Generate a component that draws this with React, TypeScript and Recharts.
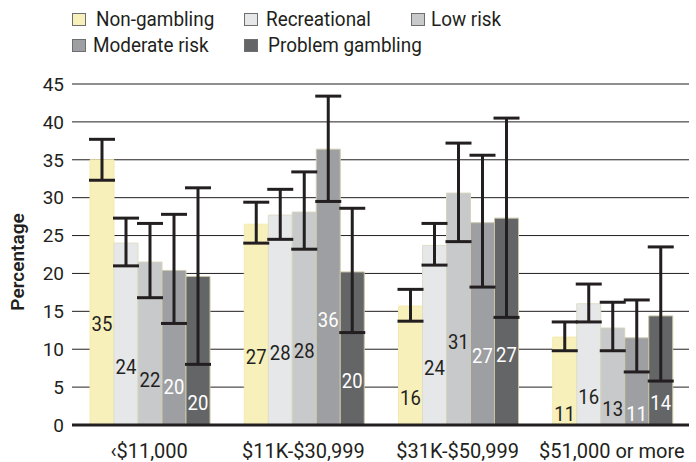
import React from 'react';
import { BarChart, Bar, XAxis, YAxis, CartesianGrid, ErrorBar, LabelList, Legend } from 'recharts';

const categories = ['‹$11,000', '$11K-$30,999', '$31K-$50,999', '$51,000 or more'];
const seriesNames = ['Non-gambling', 'Recreational', 'Low risk', 'Moderate risk', 'Problem gambling'];

const nonGambling = [35.0, 26.5, 15.7, 11.6];
const nonGamblingLow = [32.3, 24.0, 13.7, 9.8];
const nonGamblingHigh = [37.7, 29.4, 17.9, 13.6];
const nonGamblingLabels = ['35', '27', '16', '11'];
const nonGamblingLabelAt = [13.3, 9.0, 3.5, 1.45];

const recreational = [24.0, 27.7, 23.7, 16.0];
const recreationalLow = [21.0, 24.5, 21.1, 13.6];
const recreationalHigh = [27.3, 31.1, 26.6, 18.6];
const recreationalLabels = ['24', '28', '24', '16'];
const recreationalLabelAt = [7.7, 9.5, 7.5, 3.7];

const lowRisk = [21.5, 28.1, 30.6, 12.8];
const lowRiskLow = [16.8, 23.2, 24.2, 9.8];
const lowRiskHigh = [26.6, 33.4, 37.2, 16.2];
const lowRiskLabels = ['22', '28', '31', '13'];
const lowRiskLabelAt = [5.9, 9.8, 11.0, 2.1];

const moderateRisk = [20.4, 36.4, 26.7, 11.5];
const moderateRiskLow = [13.4, 29.5, 18.2, 7.0];
const moderateRiskHigh = [27.8, 43.4, 35.6, 16.5];
const moderateRiskLabels = ['20', '36', '27', '11'];
const moderateRiskLabelAt = [5.0, 13.9, 9.1, 1.4];

const problemGambling = [19.6, 20.2, 27.3, 14.4];
const problemGamblingLow = [8.0, 12.2, 14.2, 5.8];
const problemGamblingHigh = [31.3, 28.6, 40.5, 23.5];
const problemGamblingLabels = ['20', '20', '27', '14'];
const problemGamblingLabelAt = [2.9, 5.8, 9.2, 2.9];

const yTicks = [0, 5, 10, 15, 20, 25, 30, 35, 40, 45];

const values = [nonGambling, recreational, lowRisk, moderateRisk, problemGambling];
const lows = [nonGamblingLow, recreationalLow, lowRiskLow, moderateRiskLow, problemGamblingLow];
const highs = [nonGamblingHigh, recreationalHigh, lowRiskHigh, moderateRiskHigh, problemGamblingHigh];
const labelTexts = [nonGamblingLabels, recreationalLabels, lowRiskLabels, moderateRiskLabels, problemGamblingLabels];
const labelAts = [nonGamblingLabelAt, recreationalLabelAt, lowRiskLabelAt, moderateRiskLabelAt, problemGamblingLabelAt];

const fills = ['#f8f0bb', '#e6e7e8', '#c8c9cb', '#9e9fa2', '#646567'];
const strokes = ['#f3eab0', '#ddddc8', '#d6d4bc', '#cfcbb0', '#c9c4a4'];
const labelColors = ['#231f20', '#231f20', '#231f20', '#ffffff', '#ffffff'];
const ink = '#231f20';
const FONT = 'Roboto, sans-serif';

const rows = categories.map((c, i) => {
  const r: any = { cat: c };
  values.forEach((s, k) => {
    r['s' + k] = s[i];
    r['e' + k] = [s[i] - lows[k][i], highs[k][i] - s[i]];
  });
  return r;
});

const makeLabel = (k: number) => (props: any) => {
  const { x, y, width, height, index } = props;
  const v = values[k][index];
  const at = labelAts[k][index];
  const cx = Number(x) + Number(width) / 2;
  const cy = Number(y) + Number(height) - (Number(height) * at) / v;
  return (
    <text
      x={0}
      y={0}
      transform={`translate(${cx} ${cy}) scale(0.88 1)`}
      textAnchor="middle"
      dominantBaseline="central"
      fill={labelColors[k]}
      fontSize={21}
      fontFamily={FONT}
    >
      {labelTexts[k][index]}
    </text>
  );
};

const legendPos = [
  { left: 72, top: 13, text: 96 },
  { left: 244, top: 13, text: 266 },
  { left: 411, top: 13, text: 431 },
  { left: 72, top: 39, text: 93 },
  { left: 244, top: 39, text: 268 },
];

const LegendContent = () => (
  <div style={{ position: 'relative', width: 696, height: 60, fontFamily: FONT }}>
    {seriesNames.map((n, k) => (
      <React.Fragment key={n}>
        <div
          style={{
            position: 'absolute',
            left: legendPos[k].left,
            top: legendPos[k].top,
            width: 14,
            height: 13,
            boxSizing: 'border-box',
            background: fills[k],
            border: '1px solid #6d6e70',
          }}
        />
        <span
          style={{
            position: 'absolute',
            left: legendPos[k].text,
            top: legendPos[k].top - 4.5,
            fontSize: 21,
            lineHeight: '21px',
            color: ink,
            whiteSpace: 'nowrap',
            transform: 'scaleX(0.9)',
            transformOrigin: '0 0',
          }}
        >
          {n}
        </span>
      </React.Fragment>
    ))}
  </div>
);

export default function App() {
  return (
    <div style={{ position: 'absolute', left: 0, top: 0, width: 696, height: 462, background: '#fff' }}>
      <BarChart
        width={696}
        height={462}
        data={rows}
        margin={{ top: 24, right: 7, bottom: 0, left: 0 }}
        barCategoryGap={18}
        barGap={0}
      >
        <CartesianGrid vertical={false} stroke={ink} strokeWidth={1} />
        <XAxis
          dataKey="cat"
          axisLine={{ stroke: ink, strokeWidth: 3 }}
          tickLine={false}
          tickSize={0}
          tickMargin={19}
          height={37}
          interval={0}
          tick={{ fill: ink, fontSize: 20, fontFamily: FONT }}
        />
        <YAxis
          domain={[0, 45]}
          ticks={yTicks}
          axisLine={false}
          tickLine={false}
          tickSize={0}
          tickMargin={8}
          width={72}
          interval={0}
          tick={{ fill: ink, fontSize: 19, fontFamily: FONT }}
          label={{
            content: () => (
              <text
                x={17}
                y={262}
                transform="rotate(-90 17 262)"
                textAnchor="middle"
                dominantBaseline="central"
                fill={ink}
                fontSize={19}
                fontWeight={600}
                fontFamily={FONT}
              >
                Percentage
              </text>
            ),
          }}
        />
        <Legend verticalAlign="top" align="left" content={<LegendContent />} wrapperStyle={{ top: 0, left: 0, width: 696, height: 60 }} />
        {seriesNames.map((n, k) => (
          <Bar
            key={n}
            dataKey={'s' + k}
            name={n}
            fill={fills[k]}
            stroke={strokes[k]}
            strokeWidth={1}
            isAnimationActive={false}
          >
            <LabelList dataKey={'s' + k} content={makeLabel(k)} />
            <ErrorBar dataKey={'e' + k} width={13} strokeWidth={3} stroke={ink} direction="y" />
          </Bar>
        ))}
      </BarChart>
    </div>
  );
}
